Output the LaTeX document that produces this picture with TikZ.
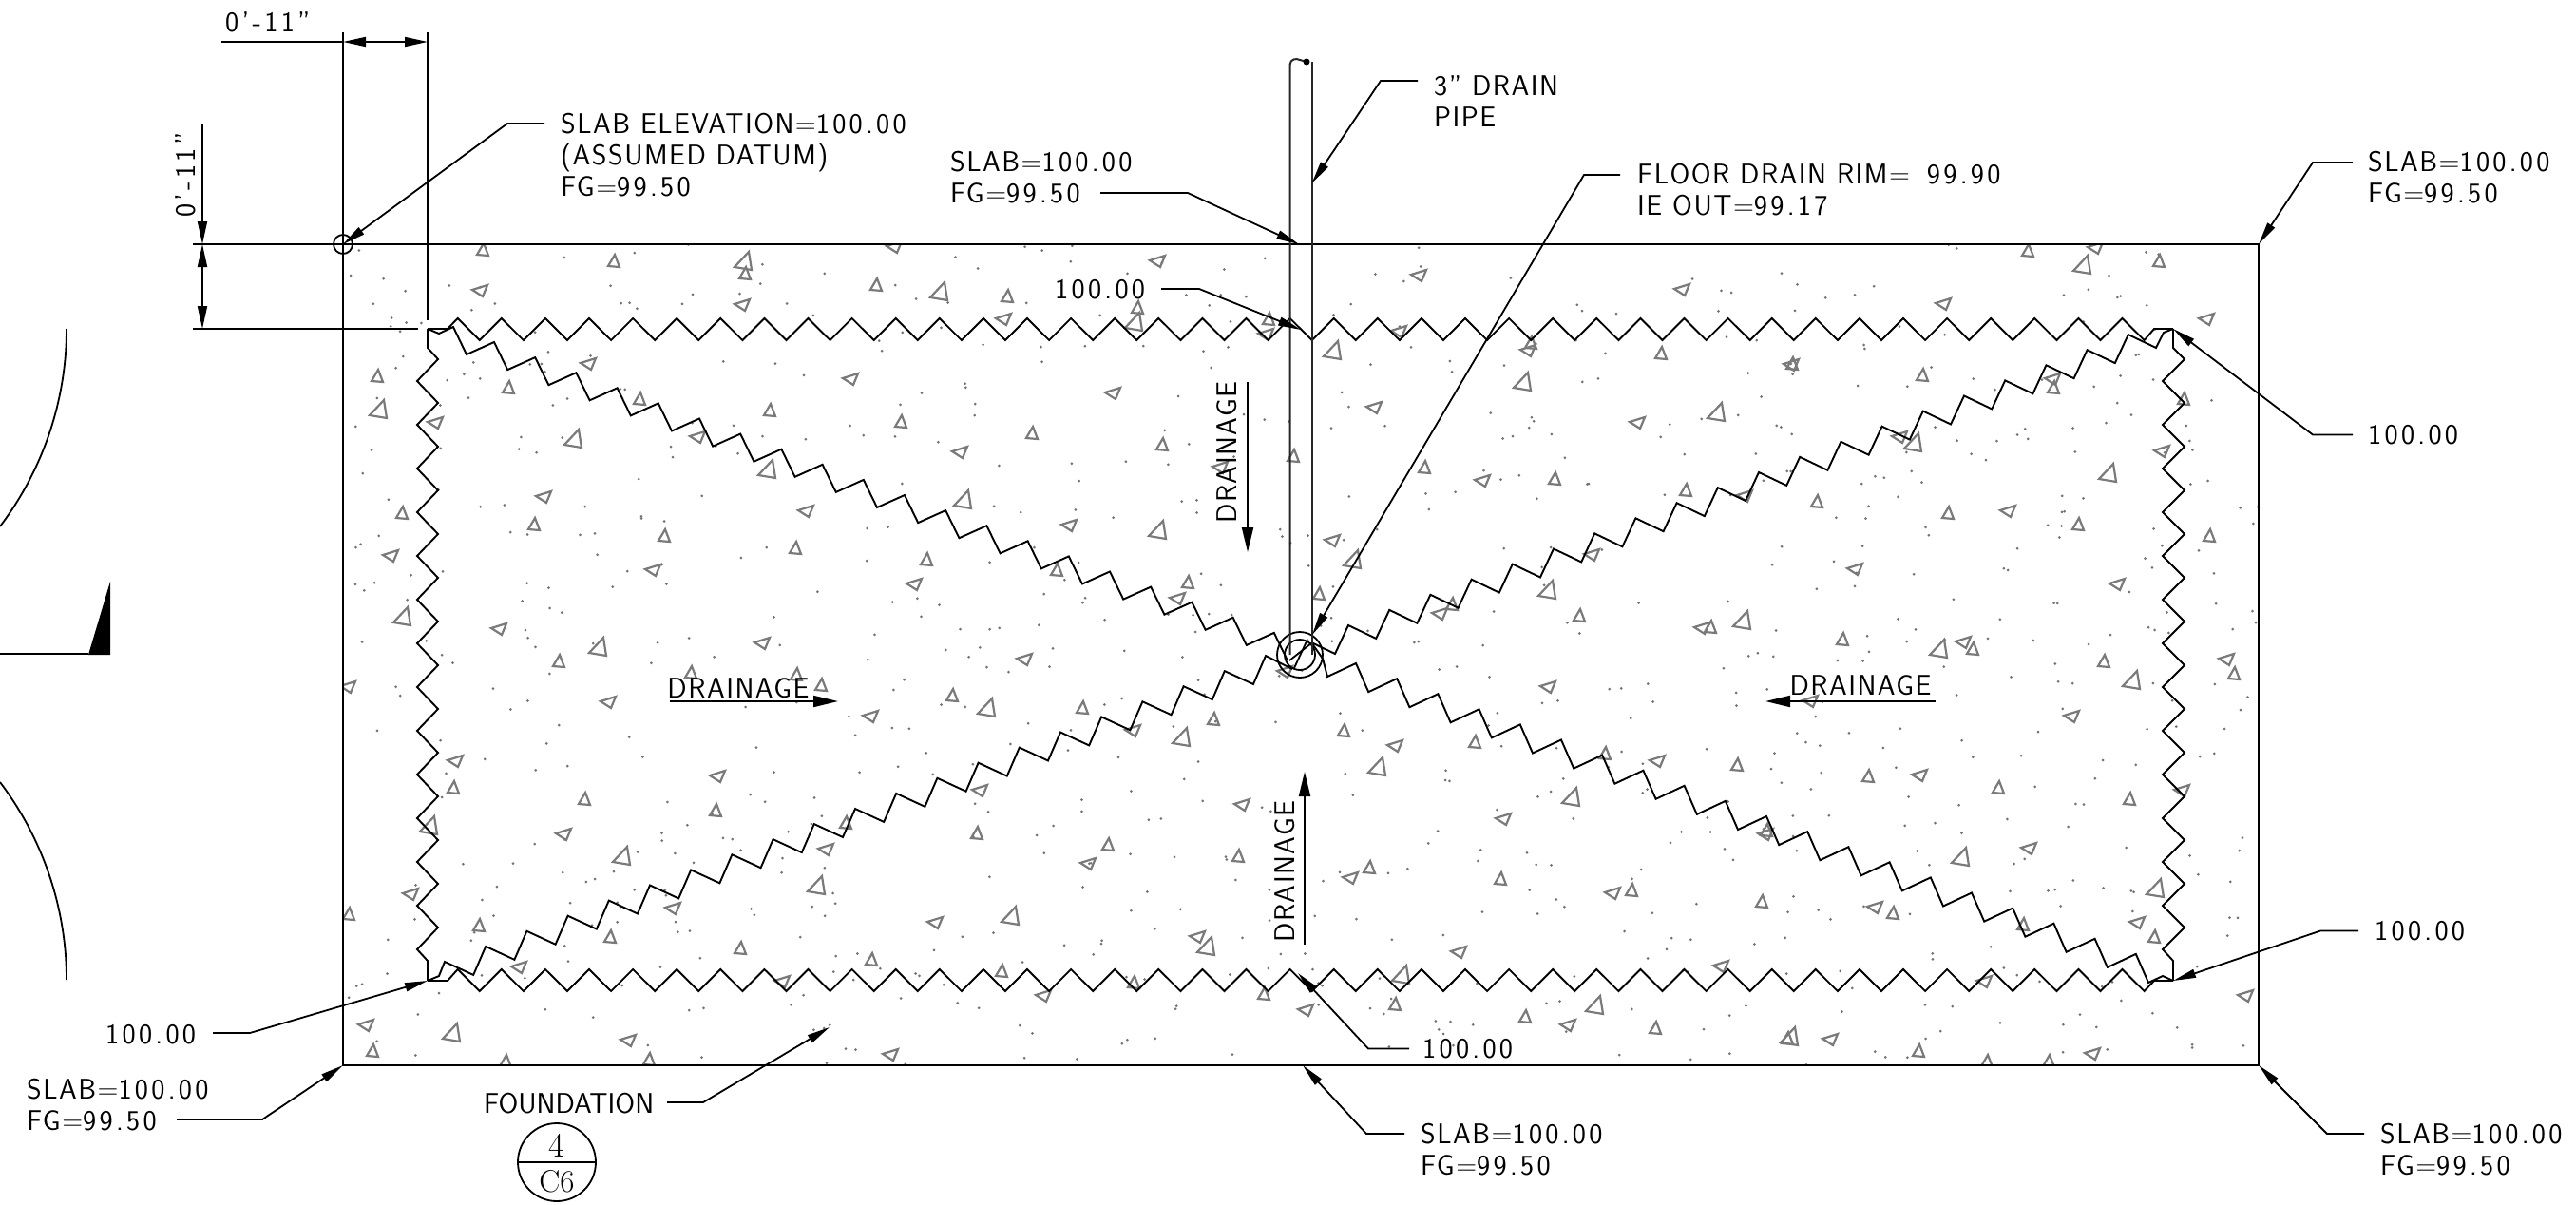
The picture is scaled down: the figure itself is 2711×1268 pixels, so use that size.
\documentclass[tikz,border=0pt]{standalone}
\usepackage{fontspec}
\usepackage{tikz}
\usetikzlibrary{arrows.meta}
\newfontfamily\cadfont{lmsans17-regular}[Extension=.otf,LetterSpace=5]
\newfontfamily\cadtight{lmsans17-regular}[Extension=.otf,LetterSpace=0]
\newfontfamily\cadnum{lmsans17-regular}[Extension=.otf,LetterSpace=11]
\newcommand{\dnum}[1]{{\cadnum #1}}

\tikzset{
  cadtext/.style={font=\cadfont\fontsize{30}{33}\selectfont,inner sep=0pt,anchor=north west,align=left},
  slabline/.style={line width=2.5pt},
  thinline/.style={line width=1.8pt},
  zig/.style={line width=1.9pt,line join=miter},
  leader/.style={line width=1.8pt,-{Triangle[length=24pt,width=9pt]}},
  flow/.style={line width=2pt,-{Triangle[length=26pt,width=12pt]}},
  aggr/.style={draw=black!52,line width=2.2pt,line join=miter},
  speck/.style={fill=black!55},
}

\begin{document}
\begin{tikzpicture}[x=1pt,y=-1pt]
  \useasboundingbox (0,0) rectangle (2711,1268);
  \coordinate (cornerNW) at (361,257);
  \coordinate (cornerNE) at (2377,257);
  \coordinate (cornerSW) at (361,1121);
  \coordinate (cornerSE) at (2377,1121);
  \coordinate (innerNW) at (450,346);
  \coordinate (innerNE) at (2287,346);
  \coordinate (innerSW) at (450,1032);
  \coordinate (innerSE) at (2287,1032);

  % concrete hatch
  \begin{scope}
    \clip (cornerNW) rectangle (cornerSE);
    \pgfmathsetseed{4711}
    \foreach \d in {1,...,850} {
      \pgfmathsetmacro\dx{361+2016*rnd}
      \pgfmathsetmacro\dy{257+864*rnd}
      \fill[speck] (\dx,\dy) circle (1.5pt);
    }
    % small upright
    \foreach \tx/\ty in {508/264,646/276,784/289,397/397,535/409,673/421,810/433,423/541,562/553,699/565,837/578,
      922/301,1060/313,1197/325,1335/337,948/445,1086/457,1223/469,1361/481,975/590,1112/601,1250/614,1388/626,
      1611/362,1748/373,1886/384,2023/396,2161/409,2298/421,2134/265,2272/276,1499/493,1636/505,1774/517,1912/529,
      2050/541,2187/553,2325/565,1528/637,1662/649,1800/661,1939/674,2076/684,
      588/697,727/709,838/711,864/722,477/830,615/842,753/854,367/963,504/975,642/987,779/999,392/1107,532/1118,683/1116,
      1002/733,1139/746,1277/758,890/867,1028/878,1166/890,1303/902,917/1011,1054/1023,1193/1035,1330/1047,
      2214/697,2351/710,1414/770,1552/782,1689/794,1828/806,1966/818,2103/830,2241/842,1859/875,1441/914,1579/926,
      1717/938,1854/950,1992/962,2129/974,2267/987,1468/1058,1605/1071,1742/1083,1881/1094,2019/1107,2156/1118,2091/1118}
      \draw[aggr] (\tx,\ty) +(1,-8) -- +(-6,4) -- +(6,5) -- cycle;
    % large upright
    \foreach \tx/\ty in {783/276,399/432,604/463,808/495,424/650,630/682,989/308,1194/340,1014/527,1219/559,
      1403/370,2192/280,1603/403,1807/435,2014/467,2219/499,1424/590,1629/622,1834/654,2041/684,
      452/870,655/902,860/933,476/1088,1039/746,1244/777,1064/965,1270/997,
      1450/808,1654/840,2244/717,2064/903,2269/936,1475/1027,1679/1059,1884/1092}
      \draw[aggr] (\tx,\ty) +(5,-11) -- +(-10,5) -- +(8,8) -- cycle;
    % small sideways
    \foreach \tx/\ty in {506/306,782/321,620/383,459/445,735/460,573/523,849/538,412/585,688/600,526/662,803/677,
      942/260,1219/275,1057/336,1333/352,896/399,1172/414,1011/476,1285/492,1126/553,963/615,1240/630,
      1494/290,1771/305,1473/349,1609/369,1886/384,2206/261,2046/320,2323/336,2161/399,1447/429,1724/445,2000/460,
      2276/475,1561/506,1837/522,2114/538,1403/569,1676/584,1953/599,2229/615,1516/646,1792/661,2067/676,
      367/723,641/739,480/801,756/817,594/878,870/894,433/941,709/956,547/1018,824/1033,386/1079,662/1095,
      917/754,1079/694,1193/769,1032/832,1308/847,1146/909,985/971,1261/986,1099/1048,1375/1063,938/1110,1353/707,
      1630/723,1906/738,2181/754,1469/785,1745/801,2021/816,2297/832,1583/862,1859/878,2136/893,1422/924,1698/940,
      1974/955,2250/971,1536/1002,1812/1017,2089/1033,2364/1048,1651/1079,1927/1094,2203/1109,2344/694}
      \draw[aggr] (\tx,\ty) +(-9,-1) -- +(7,-6) -- +(2,6) -- cycle;
  \end{scope}

  % slab outline and dimension lines
  \draw[slabline] (cornerNW) -- (cornerNE) -- (cornerSE) -- (cornerSW) -- cycle;
  \draw[thinline] (203,257) -- (cornerNW);
  \draw[thinline] (361,34) -- (cornerNW);
  \draw[thinline] (450,34) -- (450,337);
  \draw[thinline] (203,346) -- (440,346);
  \draw[thinline] (233,44) -- (361,44);
  \draw[thinline,{Triangle[length=24pt,width=10pt]}-{Triangle[length=24pt,width=10pt]}] (361,44) -- (450,44);
  \draw[thinline,-{Triangle[length=24pt,width=10pt]}] (213,131) -- (213,257);
  \draw[thinline,{Triangle[length=24pt,width=10pt]}-{Triangle[length=24pt,width=10pt]}] (213,257) -- (213,346);
  \node[draw,circle,thinline,inner sep=0pt,minimum size=20pt] (datum) at (361,257) {};

  % edges of the sloped areas
  \draw[zig] (innerNW) -- (471,346) foreach \k in {0,...,38} { -- ({481.7+46.1*\k},335) -- ({504.8+46.1*\k},358) } -- (2267,346) -- (innerNE);
  \draw[zig] (innerSW) -- (471,1032) foreach \k in {0,...,38} { -- ({481.7+46.1*\k},1020) -- ({504.8+46.1*\k},1043) } -- (2267,1032) -- (innerSE);
  \draw[zig] (innerNW) -- (450,366) foreach \k in {0,...,13} { -- (461,{378+46*\k}) -- (439,{401+46*\k}) } -- (450,1011) -- (innerSW);
  \draw[zig] (innerNE) -- (2287,366) foreach \k in {0,...,13} { -- (2299,{378+46*\k}) -- (2276,{401+46*\k}) } -- (2287,1011) -- (innerSE);

  % ridges running to the drain
  \draw[zig] (innerNW) -- (462,351) -- (477,344) foreach \k in {0,...,19} { -- ({491+43.2*\k},{373+16.1*\k}) -- ({520+43.2*\k},{360+16.1*\k}) } -- (1355,695);
  \draw[zig] (innerNE) -- (2277,350) -- (2269,366) foreach \k in {19,...,0} { -- ({1419+43.2*\k},{658-16.1*\k}) -- ({1405+43.2*\k},{688-16.1*\k}) } -- (1380,676);
  \draw[zig] (innerSW) -- (462,1027) -- (468,1012) foreach \k in {19,...,0} { -- ({1319-43.2*\k},{720+16.1*\k}) -- ({1332-43.2*\k},{690+16.1*\k}) } -- (1360,704);
  \draw[zig] (innerSE) -- (2276,1027) -- (2261,1034) foreach \k in {19,...,0} { -- ({1427+43.2*\k},{698+16.1*\k}) -- ({1397+43.2*\k},{712+16.1*\k}) } -- (1392,693) -- (1380,676);

  % drain and pipe
  \node[draw,circle,thinline,inner sep=0pt,minimum size=48pt] (drainout) at (1368,689) {};
  \node[draw,circle,thinline,inner sep=0pt,minimum size=32pt] (drainin) at (1368,689) {};
  \draw[thinline] (1357,695) -- (1380,677);
  \draw[thinline] (1362,703) -- (1375,675);
  \draw[line width=2pt,black!85] (1357.5,689) -- (1357.5,68) .. controls (1358,62) and (1364,61) .. (1368,63) -- (1375,65);
  \draw[line width=2pt,black!85] (1380.5,689) -- (1380.5,65);
  \fill (1375,65) circle (3.5pt);

  % sheet mark cut off at the left
  \draw[thinline] (70,346) arc[start angle=0,end angle=-37.2,radius=344pt];
  \draw[thinline] (70,1031) arc[start angle=0,end angle=37.2,radius=344pt];
  \draw[thinline] (0,688) -- (93,688);
  \fill (93,689) -- (116,689) -- (116,612) -- cycle;

  % labels
  \node[cadtext] (dimtop) at (237,12) {\dnum{0’-11”}};
  \node[cadtext,anchor=center,rotate=90] (dimside) at (195,184) {\dnum{0’-11”}};
  \node[cadtext] (lbldatum) at (590,119) {SLAB ELEVATION=\dnum{100.00}\\(ASSUMED DATUM)\\FG=\dnum{99.50}};
  \node[cadtext] (lblpipe) at (1509,79) {3” DRAIN\\PIPE};
  \node[cadtext] (lbltop) at (1000,159) {SLAB=\dnum{100.00}\\FG=\dnum{99.50}};
  \node[cadtext] (lblrim) at (1723,172) {FLOOR DRAIN RIM=\hspace{0.6em}\dnum{99.90}\\IE OUT=\dnum{99.17}};
  \node[cadtext] (lblne) at (2492,159) {SLAB=\dnum{100.00}\\FG=\dnum{99.50}};
  \node[cadtext] (lblsw) at (28,1135) {SLAB=\dnum{100.00}\\FG=\dnum{99.50}};
  \node[cadtext] (lblbot) at (1495,1182) {SLAB=\dnum{100.00}\\FG=\dnum{99.50}};
  \node[cadtext] (lblse) at (2505,1182) {SLAB=\dnum{100.00}\\FG=\dnum{99.50}};
  \node[cadtext] (lvlpipe) at (1110,294) {\dnum{100.00}};
  \node[cadtext] (lvlne) at (2492,447) {\dnum{100.00}};
  \node[cadtext] (lvlse) at (2499,969) {\dnum{100.00}};
  \node[cadtext] (lvlbot) at (1497,1093) {\dnum{100.00}};
  \node[cadtext] (lvlsw) at (111,1078) {\dnum{100.00}};
  \node[cadtext] (lblfound) at (509,1150) {\cadtight FOUNDATION};

  \draw[leader] (lbldatum.north west) ++(-17,11) -- ++(-39,0) -- (datum.center);
  \draw[leader] (lblpipe.north west) ++(-17,6) -- ++(-39,0) -- (1380.5,193);
  \draw[leader] (1158,203) -- (1250,203) -- (1367,257);
  \draw[leader] (lblrim.north west) ++(-18,12) -- ++(-38,0) -- (1381,668);
  \draw[leader] (lblne.north west) ++(-16,12) -- ++(-42,0) -- (cornerNE);
  \draw[leader] (186,1178) -- (276,1178) -- (cornerSW);
  \draw[leader] (lblbot.north west) ++(-17,11) -- ++(-40,0) -- (1371,1121);
  \draw[leader] (lblse.north west) ++(-17,11) -- ++(-39,0) -- (cornerSE);
  \draw[leader] (1222,304) -- (1262,304) -- (1369,347);
  \draw[leader] (lvlne.west) ++(-16,0) -- ++(-42,0) -- (innerNE);
  \draw[leader] (lvlse.west) ++(-17,0) -- ++(-40,0) -- (innerSE);
  \draw[leader] (lvlbot.west) ++(-14,0) -- ++(-43,0) -- (1366,1024);
  \draw[leader] (224,1087) -- (263,1087) -- (innerSW);
  \draw[leader] (702,1160) -- (740,1160) -- (873,1081);

  % drainage arrows
  \node[cadtext,anchor=center] (drainw) at (777,724) {DRAINAGE};
  \node[cadtext,anchor=center] (draine) at (1958,721) {DRAINAGE};
  \node[cadtext,anchor=center,rotate=90] (drainn) at (1291,476) {DRAINAGE};
  \node[cadtext,anchor=center,rotate=90] (draind) at (1352,917) {DRAINAGE};
  \coordinate (flowwstart) at (705,738);
  \coordinate (flowestart) at (2037,738);
  \coordinate (flownstart) at (1313,402);
  \coordinate (flowdstart) at (1373,994);
  \draw[flow] (flowwstart) -- (882,738);
  \draw[flow] (flowestart) -- (1858,738);
  \draw[flow] (flownstart) -- (1313,581);
  \draw[flow] (flowdstart) -- (1373,812);

  % detail bubble
  \node[draw,circle,thinline,inner sep=0pt,minimum size=82pt] (bubble) at (586,1223) {};
  \draw[thinline] (bubble.west) -- (bubble.east);
  \node[font=\fontsize{36}{36}\selectfont,inner sep=0pt] (bubtop) at (586,1205) {4};
  \node[font=\fontsize{33}{33}\selectfont,inner sep=0pt] (bubbot) at (586,1243) {C6};
\end{tikzpicture}
\end{document}
